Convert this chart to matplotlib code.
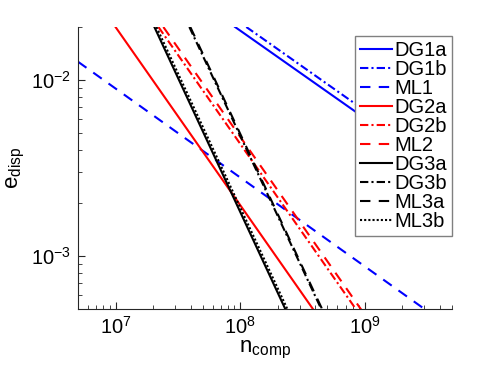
import matplotlib
matplotlib.use("Agg")
import matplotlib.pyplot as plt
import numpy as np

plt.rcParams['font.family'] = ['Liberation Sans', 'DejaVu Sans']
plt.rcParams['mathtext.default'] = 'regular'

# series: (label, n_comp endpoints, e_disp endpoints)
labels = ['DG1a', 'DG1b', 'ML1', 'DG2a', 'DG2b', 'ML2', 'DG3a', 'DG3b', 'ML3a', 'ML3b']
dg1a_n = [9.1e7, 5.0e9];  dg1a_e = [2.0e-2, 2.72e-3]
dg1b_n = [1.12e8, 5.0e9]; dg1b_e = [2.0e-2, 3.0e-3]
ml1_n = [5.0e6, 3.13e9];  ml1_e = [1.27e-2, 4.9e-4]
dg2a_n = [1.0e7, 3.91e8]; dg2a_e = [2.0e-2, 4.9e-4]
dg2b_n = [2.21e7, 8.63e8]; dg2b_e = [2.0e-2, 4.9e-4]
ml2_n = [2.42e7, 9.46e8]; ml2_e = [2.0e-2, 4.9e-4]
dg3a_n = [2.05e7, 2.33e8]; dg3a_e = [2.0e-2, 4.9e-4]
dg3b_n = [3.91e7, 4.53e8]; dg3b_e = [2.0e-2, 4.9e-4]
ml3a_n = [3.98e7, 4.60e8]; ml3a_e = [2.0e-2, 4.9e-4]
ml3b_n = [2.13e7, 2.42e8]; ml3b_e = [2.0e-2, 4.9e-4]

series_n = [dg1a_n, dg1b_n, ml1_n, dg2a_n, dg2b_n, ml2_n, dg3a_n, dg3b_n, ml3a_n, ml3b_n]
series_e = [dg1a_e, dg1b_e, ml1_e, dg2a_e, dg2b_e, ml2_e, dg3a_e, dg3b_e, ml3a_e, ml3b_e]
colors = ['#0000ff'] * 3 + ['#ff0000'] * 3 + ['#000000'] * 4
styles = ['solid', (0, (4, 1.5, 1, 1.5)), (0, (5, 4)),
          'solid', (0, (4, 1.5, 1, 1.5)), (0, (5, 4)),
          'solid', (0, (4, 1.5, 1, 1.5)), (0, (5, 4)), (0, (1, 1))]

fig = plt.figure(figsize=(4.98, 3.74), dpi=100)
ax = fig.add_axes([0.1566, 0.1738, 0.751, 0.754])

for n, e, c, s, lab in zip(series_n, series_e, colors, styles, labels):
    ax.plot(n, e, color=c, linestyle=s, linewidth=1.5, label=lab)

ax.set_xscale('log')
ax.set_yscale('log')
ax.set_xlim(5e6, 5e9)
ax.set_ylim(5e-4, 2e-2)

axcol = '#262626'
for side in ['top', 'right']:
    ax.spines[side].set_visible(False)
for side in ['left', 'bottom']:
    ax.spines[side].set_color(axcol)
    ax.spines[side].set_linewidth(0.8)
ax.tick_params(which='both', direction='in', colors=axcol, labelsize=14.5, labelcolor='black')
ax.tick_params(which='major', length=5, pad=5)
ax.tick_params(which='minor', length=3)

ax.set_xlabel(r'$n_{comp}$', fontsize=16, labelpad=1)
ax.set_ylabel(r'$e_{disp}$', fontsize=16, labelpad=3)

leg = ax.legend(loc='upper right', bbox_to_anchor=(1.0, 0.968), borderaxespad=0,
                fontsize=14.5, labelspacing=0.0, handlelength=1.6, handletextpad=0.1,
                borderpad=0.25, fancybox=False, framealpha=1, edgecolor='#808080')
leg.get_frame().set_linewidth(1.0)

fig.savefig('out.png', dpi=100)
